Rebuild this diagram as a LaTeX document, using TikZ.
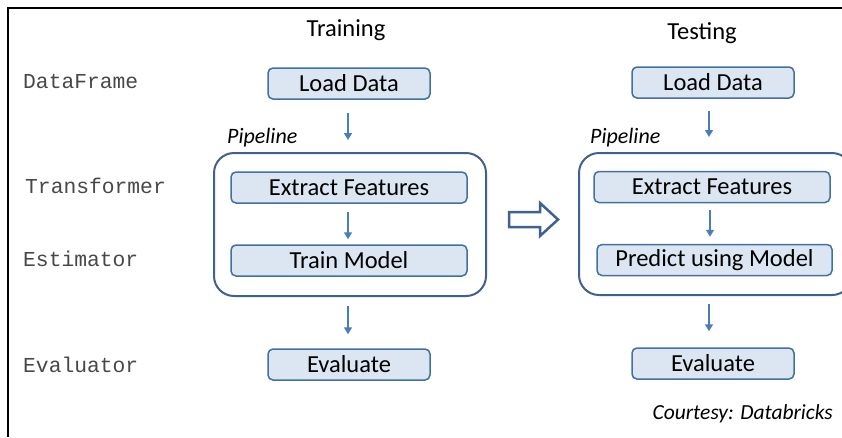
\documentclass[tikz,border=0pt]{standalone}
\usepackage{fontspec}
\setmainfont{Carlito}
\newfontfamily\monof{Liberation Mono}
\usetikzlibrary{arrows.meta}
\definecolor{boxfill}{HTML}{DCE6F2}
\definecolor{boxline}{HTML}{41719C}
\definecolor{pipeline}{HTML}{3F6090}
\definecolor{arrowc}{HTML}{4A7EBB}
\definecolor{labgray}{HTML}{484848}
\tikzset{
  stepbox/.style={draw=boxline, fill=boxfill, line width=1.5pt, rounded corners=5pt,
    minimum height=31pt, inner sep=0pt, font=\fontsize{24.5}{27}\selectfont, text=black},
  shortbox/.style={stepbox, minimum width=162pt},
  longbox/.style={stepbox, minimum width=236pt},
  pipebox/.style={draw=pipeline, line width=2pt, rounded corners=20pt, inner sep=0pt},
  flow/.style={draw=arrowc, line width=1.5pt, -{Triangle[width=8pt,length=7pt]}},
  rolelabel/.style={anchor=west, font=\monof\fontsize{21.3}{24}\selectfont, text=labgray, inner sep=0pt},
  headlabel/.style={font=\fontsize{24.5}{27}\selectfont, inner sep=0pt},
  pipelabel/.style={anchor=west, font=\itshape\fontsize{22}{25}\selectfont, inner sep=0pt},
}
\begin{document}
\begin{tikzpicture}[x=1pt,y=-1pt]
\useasboundingbox (0,0) rectangle (842,437);
% frame
\draw[line width=2.5pt] (7,8) -- (842,8);
\draw[line width=2.5pt] (8,7) -- (8,437);
% headings
\node[headlabel] (train) at (346,30) {Training};
\node[headlabel] (test) at (702,33) {Testing};
% role labels
\node[rolelabel] (r1) at (23,82) {DataFrame};
\node[rolelabel] (r2) at (25,186) {Transformer};
\node[rolelabel] (r3) at (23,259) {Estimator};
\node[rolelabel] (r4) at (23,365) {Evaluator};
% pipelines
\node[pipebox, minimum width=272pt, minimum height=143pt] (pipeL) at (350,224.5) {};
\node[pipebox, minimum width=273pt, minimum height=142pt] (pipeR) at (715.5,224) {};
\node[pipelabel] (plL) at (227,138) {Pipeline};
\node[pipelabel] (plR) at (590,138) {Pipeline};
% left column
\node[shortbox] (loadL) at (349,83.5) {Load Data};
\node[longbox] (extL) at (349,187.5) {Extract Features};
\node[longbox] (trainL) at (349,260.5) {Train Model};
\node[shortbox] (evalL) at (349,364.5) {Evaluate};
% right column
\node[shortbox] (loadR) at (713,82.5) {Load Data};
\node[longbox] (extR) at (712,187) {Extract Features};
\node[longbox, minimum width=235pt] (predR) at (714.5,260) {Predict using Model};
\node[shortbox] (evalR) at (713,363.5) {Evaluate};
% arrows left
\draw[flow, shorten <=13pt, shorten >=12pt] ([xshift=-1pt]loadL.south) -- ([xshift=-1pt]loadL.south |- pipeL.north);
\draw[flow, shorten <=8pt, shorten >=5pt] ([xshift=-1pt]extL.south) -- ([xshift=-1pt]extL.south |- trainL.north);
\draw[flow, shorten <=9pt, shorten >=14pt] ([xshift=-1pt]loadL.south |- pipeL.south) -- ([xshift=-1pt]evalL.north);
% arrows right
\draw[flow, shorten <=12pt, shorten >=15pt] ([xshift=-4pt]loadR.south) -- ([xshift=-4pt]loadR.south |- pipeR.north);
\draw[flow, shorten <=7pt, shorten >=7pt] ([xshift=-2pt]extR.south) -- ([xshift=-2pt]extR.south |- predR.north);
\draw[flow, shorten <=8pt, shorten >=16pt] ([xshift=-4pt]loadR.south |- pipeR.south) -- ([xshift=-4pt]evalR.north);
% big hollow arrow
\draw[draw=pipeline, line width=2.5pt, line join=miter] (509,212) -- (540,212) -- (540,203) -- (558,219.5) -- (540,236) -- (540,227) -- (509,227) -- cycle;
% courtesy
\node[anchor=east, font=\itshape\fontsize{21.5}{24}\selectfont, inner sep=0pt] (court) at (833,414) {Courtesy: Databricks};
\end{tikzpicture}
\end{document}
